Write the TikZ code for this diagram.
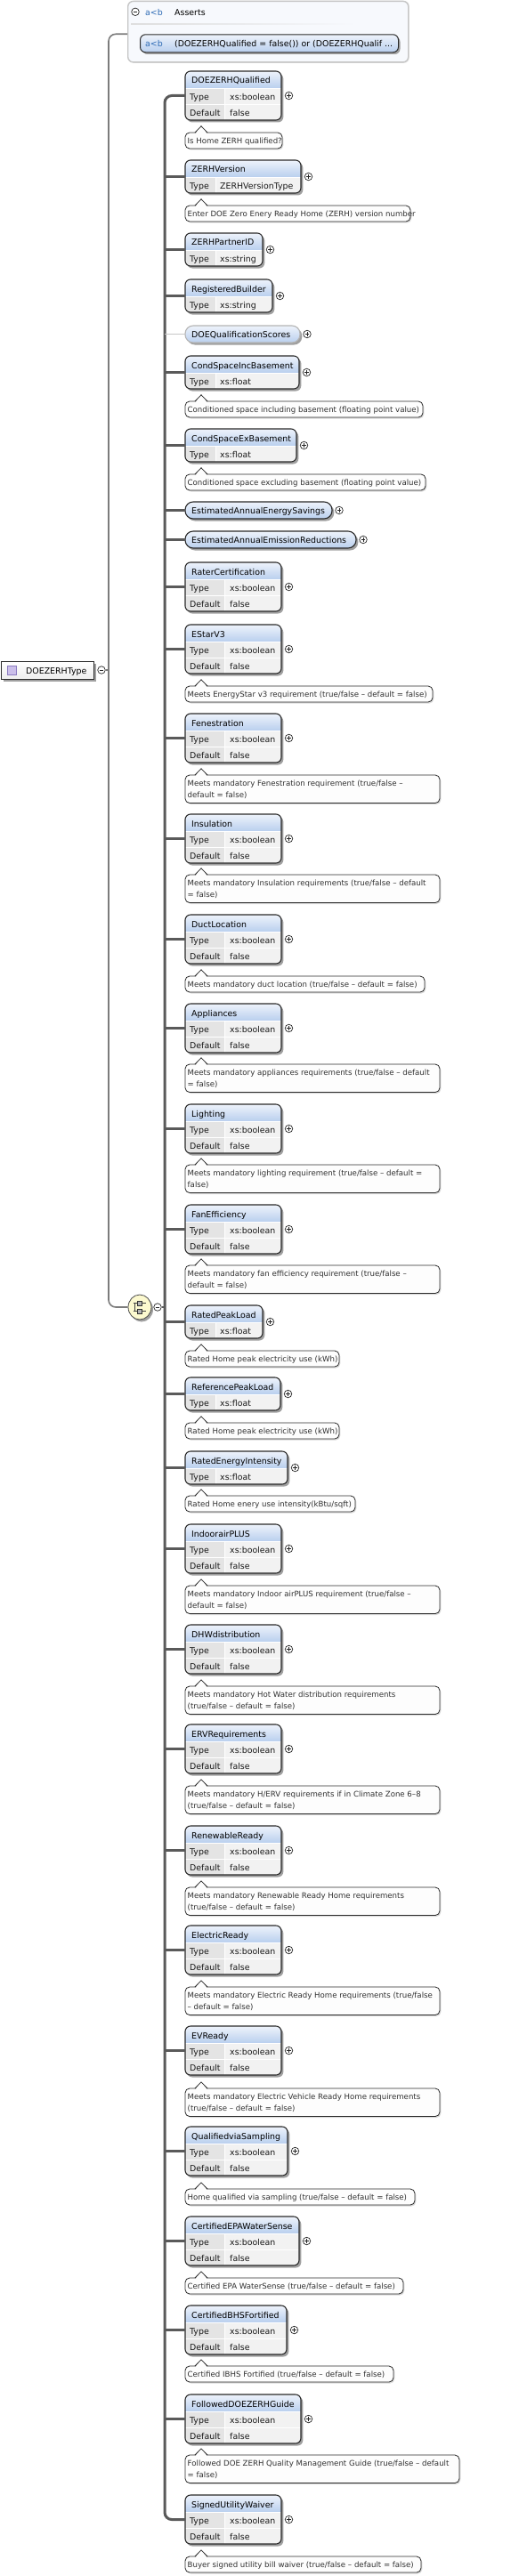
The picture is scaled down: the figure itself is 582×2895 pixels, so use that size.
\documentclass[tikz,border=0pt]{standalone}
\usepackage{fontspec}
\setmainfont{DejaVu Sans}
\usetikzlibrary{calc,shapes.geometric}
\definecolor{hdrtop}{HTML}{EEF3FB}
\definecolor{hdrbot}{HTML}{B9CFEE}
\definecolor{cellA}{HTML}{E4E4E4}
\definecolor{cellB}{HTML}{F2F2F2}
\definecolor{bordc}{HTML}{2B2B2B}
\definecolor{shadc}{HTML}{A0A0A0}
\definecolor{docfill}{HTML}{FDFDFD}
\definecolor{doctextc}{HTML}{303030}
\definecolor{spineAc}{HTML}{7C7C7C}
\definecolor{spineBc}{HTML}{5A5A5A}
\definecolor{asrfill}{HTML}{F7F9FD}
\definecolor{asrbord}{HTML}{C6C6C6}
\definecolor{abblue}{HTML}{2F6CB6}
\definecolor{seqfill}{HTML}{FCF9CF}
\definecolor{lightbord}{HTML}{B5B5B5}
\definecolor{iconfill}{HTML}{CBBFEA}
\definecolor{iconbord}{HTML}{8C7CC0}
\tikzset{
  ttext/.style={font=\fontsize{9.4}{11}\selectfont, text=black, inner sep=0pt, anchor=base west},
  rtext/.style={font=\fontsize{9.4}{11}\selectfont, text=black!90, inner sep=0pt, anchor=base west},
  dtext/.style={font=\fontsize{8.6}{10}\selectfont, text=doctextc, inner sep=0pt, anchor=base west},
  elframe/.style={draw=bordc, line width=1.1pt, rounded corners=6pt, inner sep=0pt, outer sep=0pt, anchor=north west},
  docbox/.style={draw=bordc, line width=0.8pt, fill=docfill, rounded corners=5pt, inner sep=0pt, outer sep=0pt, anchor=north west},
  pluscirc/.style={circle, draw=black!85, line width=0.7pt, minimum size=8.5pt, inner sep=0pt, fill=white,
    path picture={\draw[line width=0.7pt] ([xshift=-2.4pt]path picture bounding box.center) -- ([xshift=2.4pt]path picture bounding box.center);
                  \draw[line width=0.7pt] ([yshift=-2.4pt]path picture bounding box.center) -- ([yshift=2.4pt]path picture bounding box.center);}},
  minuscirc/.style={circle, draw=black!85, line width=0.7pt, minimum size=8.5pt, inner sep=0pt, fill=white,
    path picture={\draw[line width=0.7pt] ([xshift=-2.4pt]path picture bounding box.center) -- ([xshift=2.4pt]path picture bounding box.center);}},
  connB/.style={draw=spineBc, line width=2.2pt},
  spineB/.style={draw=spineBc, line width=3pt, rounded corners=8pt},
  spineA/.style={draw=spineAc, line width=1.6pt, rounded corners=8pt},
  connL/.style={draw=black!22, line width=0.9pt},
}
% element with Type + Default
\newcommand\elTD[4]{%
  \pgfmathsetmacro\eTop{#3}\pgfmathsetmacro\eRt{#4}%
  \fill[shadc, rounded corners=6pt] (210,\eTop+2.5) rectangle (\eRt+2.3,\eTop+57.5);
  \begin{scope}
    \clip[rounded corners=6pt] (208,\eTop) rectangle (\eRt,\eTop+55);
    \shade[top color=hdrtop, bottom color=hdrbot] (208,\eTop) rectangle (\eRt,\eTop+19);
    \fill[cellA] (208,\eTop+19) rectangle (252,\eTop+55);
    \fill[cellB] (252,\eTop+19) rectangle (\eRt,\eTop+55);
    \draw[white, line width=0.9pt] (208,\eTop+19) -- (\eRt,\eTop+19) (208,\eTop+37) -- (\eRt,\eTop+37) (252,\eTop+19) -- (252,\eTop+55);
  \end{scope}
  \node[elframe, minimum width={(\eRt-208)*1pt}, minimum height=55pt] (#1) at (208,\eTop) {};
  \node[ttext] (#1-t) at (215,\eTop+14) {#2};
  \node[rtext] (#1-k1) at (213,\eTop+32.5) {Type};
  \node[rtext] (#1-v1) at (258,\eTop+32.5) {xs:boolean};
  \node[rtext] (#1-k2) at (213,\eTop+50.5) {Default};
  \node[rtext] (#1-v2) at (258,\eTop+50.5) {false};
  \node[pluscirc] (#1-p) at (\eRt+8.5,\eTop+27.5) {};
}
% element with Type only
\newcommand\elT[5]{%
  \pgfmathsetmacro\eTop{#3}\pgfmathsetmacro\eRt{#4}%
  \fill[shadc, rounded corners=6pt] (210,\eTop+2.5) rectangle (\eRt+2.3,\eTop+39.5);
  \begin{scope}
    \clip[rounded corners=6pt] (208,\eTop) rectangle (\eRt,\eTop+37);
    \shade[top color=hdrtop, bottom color=hdrbot] (208,\eTop) rectangle (\eRt,\eTop+19);
    \fill[cellA] (208,\eTop+19) rectangle (242,\eTop+37);
    \fill[cellB] (242,\eTop+19) rectangle (\eRt,\eTop+37);
    \draw[white, line width=0.9pt] (208,\eTop+19) -- (\eRt,\eTop+19) (242,\eTop+19) -- (242,\eTop+37);
  \end{scope}
  \node[elframe, minimum width={(\eRt-208)*1pt}, minimum height=37pt] (#1) at (208,\eTop) {};
  \node[ttext] (#1-t) at (215,\eTop+14) {#2};
  \node[rtext] (#1-k1) at (213,\eTop+32.5) {Type};
  \node[rtext] (#1-v1) at (247,\eTop+32.5) {#5};
  \node[pluscirc] (#1-p) at (\eRt+8.5,\eTop+18.5) {};
}
% pill element (complex type, no table)
\newcommand\elP[5]{%
  \pgfmathsetmacro\eTop{#3}\pgfmathsetmacro\eRt{#4}%
  \fill[shadc, rounded corners=9pt] (210,\eTop+2.5) rectangle (\eRt+2.3,\eTop+21.5);
  \shade[top color=hdrtop, bottom color=hdrbot, rounded corners=9pt] (208,\eTop) rectangle (\eRt,\eTop+19);
  \node[elframe, draw=#5, rounded corners=9pt, minimum width={(\eRt-208)*1pt}, minimum height=19pt] (#1) at (208,\eTop) {};
  \node[ttext] (#1-t) at (215,\eTop+13.5) {#2};
  \node[pluscirc] (#1-p) at (\eRt+8,\eTop+9.5) {};
}
% one-line annotation
\newcommand\docA[4]{%
  \pgfmathsetmacro\eTop{#2}\pgfmathsetmacro\eRt{#3}%
  \fill[black!15, rounded corners=5pt] (209.5,\eTop+1.5) rectangle (\eRt+1.3,\eTop+19.5);
  \node[docbox, minimum width={(\eRt-208)*1pt}, minimum height=18pt] (#1) at (208,\eTop) {};
  \fill[docfill] (219.7,\eTop+0.9) -- (226,\eTop-6.4) -- (232.3,\eTop+0.9) -- cycle;
  \draw[bordc, line width=0.8pt] (219,\eTop) -- (226,\eTop-7.2) -- (233,\eTop);
  \node[dtext] (#1-t) at (210.5,\eTop+12.3) {#4};
}
% two-line annotation
\newcommand\docB[5]{%
  \pgfmathsetmacro\eTop{#2}\pgfmathsetmacro\eRt{#3}%
  \fill[black!15, rounded corners=5pt] (209.5,\eTop+1.5) rectangle (\eRt+1.3,\eTop+33);
  \node[docbox, minimum width={(\eRt-208)*1pt}, minimum height=31.5pt] (#1) at (208,\eTop) {};
  \fill[docfill] (219.7,\eTop+0.9) -- (226,\eTop-6.4) -- (232.3,\eTop+0.9) -- cycle;
  \draw[bordc, line width=0.8pt] (219,\eTop) -- (226,\eTop-7.2) -- (233,\eTop);
  \node[dtext] (#1-t) at (210.5,\eTop+12.3) {#4};
  \node[dtext] (#1-u) at (210.5,\eTop+25.6) {#5};
}
\begin{document}
\begin{tikzpicture}[x=1pt,y=-1pt]
\fill[white] (0,0) rectangle (582,2895);
\useasboundingbox (0,0) rectangle (582,2895);
\coordinate (sp1) at (122,0);
\coordinate (sp2) at (185,0);
\coordinate (asrIn) at (143,38.3);

% ---------- Asserts ----------
\fill[black!10, rounded corners=6pt] (145,1) rectangle (459.8,70.8);
\node[draw=asrbord, fill=asrfill, line width=1.4pt, rounded corners=6pt, minimum width=315pt, minimum height=68.5pt, anchor=north west, inner sep=0pt] (asr) at (143,0.7) {};
\shade[left color=black!13, right color=asrfill] (147,26.3) rectangle (400,27.3);
\node[minuscirc] (asrm) at (152,13.3) {};
\node[ttext, text=abblue] (asrab) at (163,17.5) {a<b};
\node[ttext] (asrt) at (196,17.5) {Asserts};
\fill[shadc, rounded corners=6pt] (159.5,41) rectangle (449.5,61);
\node[draw=bordc, line width=1pt, rounded corners=6pt, top color=hdrtop, bottom color=hdrbot, minimum width=290pt, minimum height=20pt, anchor=north west, inner sep=0pt] (asn) at (157,38.3) {};
\node[ttext, text=abblue] (asnab) at (163,52.5) {a<b};
\node[ttext] (asnt) at (196,52.5) {(DOEZERHQualified = false()) or (DOEZERHQualif ...};

% ---------- root ----------
\fill[shadc] (3.5,745.5) rectangle (107.8,765.8);
\node[draw=bordc, line width=1pt, top color=white, bottom color=black!7, minimum width=104pt, minimum height=20.5pt, anchor=north west, inner sep=0pt] (root) at (1,742.8) {};
\node[draw=iconbord, fill=iconfill, line width=0.6pt, minimum size=10.5pt, inner sep=0pt] (rooticon) at (13.5,753.3) {};
\node[ttext] (roott) at (29,757.5) {DOEZERHType};
\node[minuscirc] (rootm) at (114,753) {};

% ---------- sequence ----------
\fill[shadc] (159,1471.5) ellipse (13pt and 14pt);
\node[ellipse, draw=black!70, fill=seqfill, minimum width=26pt, minimum height=28pt, inner sep=0pt, line width=0.8pt] (seq) at (157,1469) {};
\draw[black!75, line width=0.7pt] (151,1464.5) -- (151,1473.5) (149.5,1464.5) -- (164,1464.5) (149.5,1473.5) -- (164,1473.5);
\filldraw[fill=black!30, draw=black!80, line width=0.5pt] (154.3,1462) rectangle (159.7,1467) (154.3,1471) rectangle (159.7,1476);
\node[minuscirc] (seqm) at (177,1469) {};

% ---------- elements ----------
\elTD{q1}{DOEZERHQualified}{80}{316}
\docA{q1d}{149}{317}{Is Home ZERH qualified?}
\elT{zv}{ZERHVersion}{180}{338}{ZERHVersionType}
\docA{zvd}{231}{461}{Enter DOE Zero Enery Ready Home (ZERH) version number}
\elT{zp}{ZERHPartnerID}{262}{295}{xs:string}
\elT{rb}{RegisteredBuilder}{314}{306}{xs:string}
\elP{dq}{DOEQualificationScores}{366}{337}{lightbord}
\elT{ci}{CondSpaceIncBasement}{400}{336}{xs:float}
\docA{cid}{451}{475}{Conditioned space including basement (floating point value)}
\elT{ce}{CondSpaceExBasement}{482}{333}{xs:float}
\docA{ced}{533}{478}{Conditioned space excluding basement (floating point value)}
\elP{es}{EstimatedAnnualEnergySavings}{564}{373}{bordc}
\elP{er}{EstimatedAnnualEmissionReductions}{597}{400}{bordc}
\elTD{rc}{RaterCertification}{632}{316}
\elTD{e3}{EStarV3}{702}{316}
\docA{e3d}{771}{486}{Meets EnergyStar v3 requirement (true/false – default = false)}
\elTD{fe}{Fenestration}{802}{316}
\docB{fed}{871}{494}{Meets mandatory Fenestration requirement (true/false –}{default = false)}
\elTD{ins}{Insulation}{915}{316}
\docB{insd}{983}{494}{Meets mandatory Insulation requirements (true/false – default}{= false)}
\elTD{dl}{DuctLocation}{1028}{316}
\docA{dld}{1097}{477}{Meets mandatory duct location (true/false – default = false)}
\elTD{ap}{Appliances}{1128}{316}
\docB{apd}{1196}{494}{Meets mandatory appliances requirements (true/false – default}{= false)}
\elTD{li}{Lighting}{1241}{316}
\docB{lid}{1309}{494}{Meets mandatory lighting requirement (true/false – default =}{false)}
\elTD{fa}{FanEfficiency}{1354}{316}
\docB{fad}{1422}{494}{Meets mandatory fan efficiency requirement (true/false –}{default = false)}
\elT{rp}{RatedPeakLoad}{1467}{295}{xs:float}
\docA{rpd}{1518}{381}{Rated Home peak electricity use (kWh)}
\elT{rf}{ReferencePeakLoad}{1548}{315}{xs:float}
\docA{rfd}{1599}{381}{Rated Home peak electricity use (kWh)}
\elT{ri}{RatedEnergyIntensity}{1631}{323}{xs:float}
\docA{rid}{1681}{399}{Rated Home enery use intensity(kBtu/sqft)}
\elTD{ia}{IndoorairPLUS}{1713}{316}
\docB{iad}{1782}{494}{Meets mandatory Indoor airPLUS requirement (true/false –}{default = false)}
\elTD{dh}{DHWdistribution}{1826}{316}
\docB{dhd}{1895}{494}{Meets mandatory Hot Water distribution requirements}{(true/false – default = false)}
\elTD{ev}{ERVRequirements}{1938}{316}
\docB{evd}{2007}{494}{Meets mandatory H/ERV requirements if in Climate Zone 6–8}{(true/false – default = false)}
\elTD{rr}{RenewableReady}{2052}{316}
\docB{rrd}{2121}{494}{Meets mandatory Renewable Ready Home requirements}{(true/false – default = false)}
\elTD{er2}{ElectricReady}{2164}{316}
\docB{er2d}{2233}{494}{Meets mandatory Electric Ready Home requirements (true/false}{– default = false)}
\elTD{vr}{EVReady}{2277}{316}
\docB{vrd}{2347}{494}{Meets mandatory Electric Vehicle Ready Home requirements}{(true/false – default = false)}
\elTD{qs}{QualifiedviaSampling}{2390}{323}
\docA{qsd}{2460}{466}{Home qualified via sampling (true/false – default = false)}
\elTD{ws}{CertifiedEPAWaterSense}{2491}{336}
\docA{wsd}{2560}{453}{Certified EPA WaterSense (true/false – default = false)}
\elTD{bh}{CertifiedBHSFortified}{2591}{322}
\docA{bhd}{2659}{442}{Certified IBHS Fortified (true/false – default = false)}
\elTD{fg}{FollowedDOEZERHGuide}{2691}{338}
\docB{fgd}{2759}{516}{Followed DOE ZERH Quality Management Guide (true/false – default}{= false)}
\elTD{su}{SignedUtilityWaiver}{2804}{316}
\docA{sud}{2873}{473}{Buyer signed utility bill waiver (true/false – default = false)}

% ---------- connectors ----------
\draw[spineA] (asrIn) -- (asrIn -| sp1) -- (sp1 |- seq.west) -- (seq.west);
\draw[spineA, rounded corners=0pt] (rootm.east) -- (rootm.east -| sp1);
\draw[connB] (seqm.east) -- (seqm.east -| sp2);
\draw[spineB] (q1.west) -- (q1.west -| sp2) -- (sp2 |- su.west) -- (su.west);
\foreach \n in {zv,zp,rb,ci,ce,es,er,rc,e3,fe,ins,dl,ap,li,fa,rp,rf,ri,ia,dh,ev,rr,er2,vr,qs,ws,bh,fg}
  \draw[connB] (sp2 |- \n.west) -- (\n.west);
\draw[connL] (sp2 |- dq.west) -- (dq.west);
\end{tikzpicture}
\end{document}
